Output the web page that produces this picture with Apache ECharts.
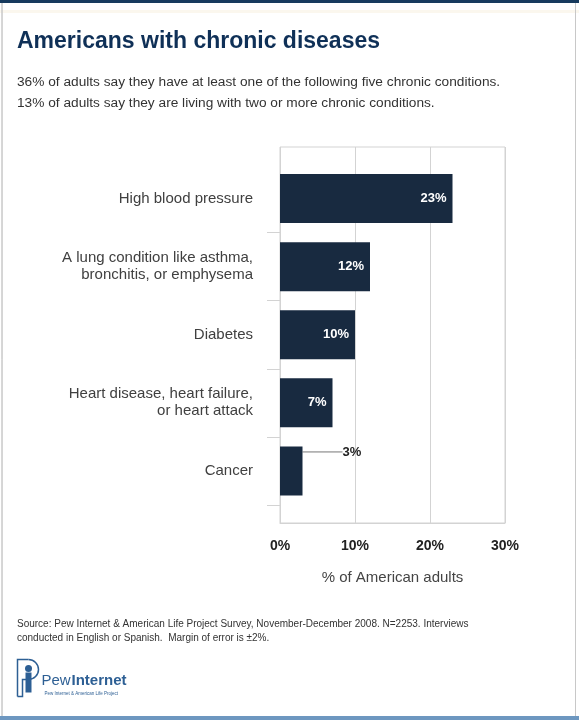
<!DOCTYPE html>
<html>
<head>
<meta charset="utf-8">
<script src="https://cdn.jsdelivr.net/npm/echarts@6/dist/echarts.min.js"></script>
<style>
  html, body { margin: 0; padding: 0; background: #fff; }
  #chart { width: 579px; height: 720px; }
</style>
</head>
<body>
<div id="chart"></div>
<script>
"use strict";
// survey data, top to bottom
var conditions = ['High blood pressure', 'A lung condition like asthma,\nbronchitis, or emphysema', 'Diabetes',
	'Heart disease, heart failure,\nor heart attack', 'Cancer'];
var shares = [23, 12, 10, 7, 3];
var xTicks = [0, 10, 20, 30];

var font = '"Liberation Sans", Arial, sans-serif';
var barColor = '#182a40', gridColor = '#d3d3d3';

var chart = echarts.init(document.getElementById('chart'));

var barData = shares.map(function(v, i){
	if(v < 5) // too small for an inside label
		return { value: v, label: { position: 'right', distance: 4, color: '#222' }, labelLine: { show: true, lineStyle: { color: '#777', width: 1 } } };
	return v;
});

var option = {
	animation: false,
	textStyle: { fontFamily: font },
	title: [
		{ text: 'Americans with chronic diseases', left: 17, top: 30, padding: 0,
		  textStyle: { fontSize: 23, fontWeight: 'bold', color: '#0f3057', fontFamily: font } },
		{ text: '36% of adults say they have at least one of the following five chronic conditions.\n13% of adults say they are living with two or more chronic conditions.',
		  left: 17, top: 72, padding: 0, textStyle: { fontSize: 13.7, lineHeight: 21, fontWeight: 'normal', color: '#333', fontFamily: font } },
		{ text: 'Source: Pew Internet & American Life Project Survey, November-December 2008. N=2253. Interviews\nconducted in English or Spanish.  Margin of error is \u00b12%.',
		  left: 17, top: 617, padding: 0, textStyle: { fontSize: 10, lineHeight: 14, fontWeight: 'normal', color: '#333', fontFamily: font } }
	],
	grid: [
		{ left: 280, right: 74, top: 147, bottom: 197, show: true, borderColor: gridColor, borderWidth: 1 },
		{ left: 280, right: 74, top: 164.5, bottom: 215 }
	],
	xAxis: [
		{ gridIndex: 0, type: 'value', min: 0, max: 30, interval: 10,
		  axisLine: { show: true, lineStyle: { color: gridColor, width: 1 } }, axisTick: { show: false },
		  splitLine: { lineStyle: { color: gridColor, width: 1 } },
		  axisLabel: { formatter: '{value}%', fontSize: 14, fontWeight: 'bold', color: '#222', margin: 16 },
		  name: '% of American adults', nameLocation: 'middle', nameGap: 47,
		  nameTextStyle: { fontSize: 15, color: '#444' } },
		{ gridIndex: 1, type: 'value', min: 0, max: 30, interval: 10, show: false }
	],
	yAxis: [
		{ gridIndex: 0, type: 'value', min: 0, max: 1, show: false },
		{ gridIndex: 1, type: 'category', data: conditions, inverse: true,
		  axisLine: { show: false },
		  axisTick: { show: true, length: 13, lineStyle: { color: gridColor }, interval: function(i){ return i > 0 && i < conditions.length; } },
		  axisLabel: { fontSize: 15, lineHeight: 17, color: '#404040', margin: 27, align: 'right' } }
	],
	series: [{
		type: 'bar', xAxisIndex: 1, yAxisIndex: 1, data: barData, barWidth: 49,
		itemStyle: { color: barColor },
		label: { show: true, position: 'insideRight', distance: 6, formatter: '{c}%',
			color: '#fff', fontSize: 13, fontWeight: 'bold' },
		labelLayout: function(p){
			return p.dataIndex === 4 ? { dx: 36, dy: -19 } : {};
		}
	}],
	graphic: [
		// page frame
		{ type: 'rect', shape: { x: 0, y: 0, width: 579, height: 3 }, style: { fill: '#173a5e' }, silent: true },
		{ type: 'rect', shape: { x: 0, y: 10, width: 579, height: 3 }, style: { fill: '#fbf7ee' }, silent: true },
		{ type: 'rect', shape: { x: 2, y: 3, width: 0, height: 713 }, style: { stroke: '#c8c8c8', lineWidth: 1 }, silent: true },
		{ type: 'rect', shape: { x: 575.5, y: 3, width: 0, height: 713 }, style: { stroke: '#c8c8c8', lineWidth: 1 }, silent: true },
		{ type: 'rect', shape: { x: 0, y: 716, width: 579, height: 4 }, style: { fill: '#6d97c0' }, silent: true },
		// logo
		{ type: 'group', left: 15, top: 657, silent: true, children: [
			{ type: 'polyline', shape: { points: [[1, 38], [1, 1], [12, 1]] }, style: { stroke: '#2d5f94', lineWidth: 1.5, fill: null } },
			{ type: 'arc', shape: { cx: 12, cy: 11, r: 10, startAngle: -Math.PI / 2, endAngle: Math.PI / 2 }, style: { stroke: '#2d5f94', lineWidth: 1.5, fill: null } },
			{ type: 'polyline', shape: { points: [[12, 21], [6, 21], [6, 38], [1, 38]] }, style: { stroke: '#2d5f94', lineWidth: 1.5, fill: null } },
			{ type: 'circle', shape: { cx: 12, cy: 10, r: 3.5 }, style: { fill: '#2d5f94' } },
			{ type: 'rect', shape: { x: 9, y: 14, width: 6, height: 20 }, style: { fill: '#2d5f94' } },
			{ type: 'text', x: 25, y: 15, style: { text: 'Pew', font: '15px ' + font, fill: '#2d5f94' } },
			{ type: 'text', x: 55, y: 15, style: { text: 'Internet', font: 'bold 15px ' + font, fill: '#2d5f94' } },
			{ type: 'text', x: 28, y: 33, style: { text: 'Pew Internet & American Life Project', font: '4.5px ' + font, fill: '#2d5f94' } }
		] }
	]
};
chart.setOption(option);
</script>
</body>
</html>
